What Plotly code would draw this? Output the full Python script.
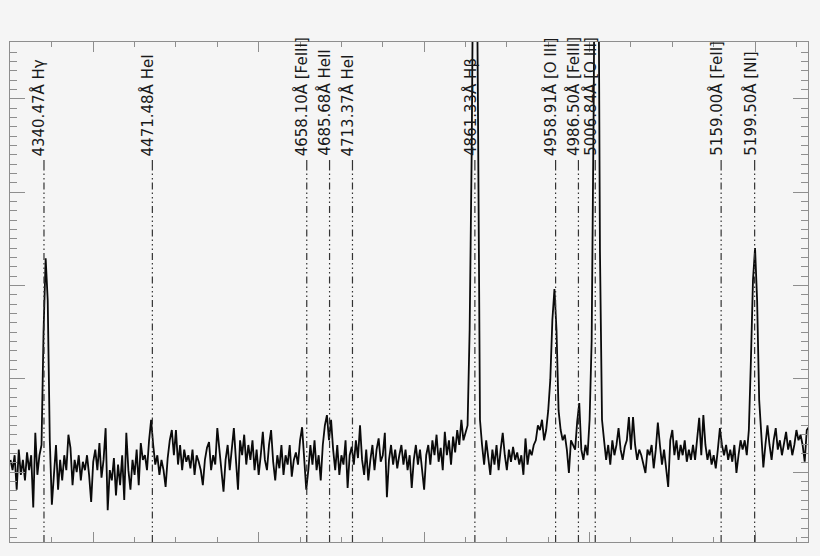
import plotly.graph_objects as go

# Spectrum sampling (start wavelength and step, Angstrom) — like a FITS header
WAVE_START = 4300.0
WAVE_STEP = 2.5

flux = [
    1.13, 1.02, 1.18, 0.81, 1.24, 0.97, 1.13, 0.91, 1.21, 1.02,
    1.18, 0.62, 1.42, 0.97, 1.18, 1.29, 2.52, 3.29, 2.84, 1.34,
    0.65, 1.02, 1.29, 0.81, 1.13, 0.91, 1.18, 1.02, 1.40, 1.26,
    0.86, 1.13, 1.00, 1.18, 0.91, 1.11, 1.02, 1.18, 0.97, 0.68,
    1.11, 1.24, 1.02, 1.31, 0.94, 1.13, 1.47, 0.59, 1.02, 0.91,
    1.15, 0.75, 1.08, 0.86, 1.18, 0.70, 1.42, 1.02, 0.81, 1.13,
    0.97, 1.24, 0.86, 1.31, 1.13, 1.18, 1.02, 1.34, 1.56, 1.29,
    1.08, 1.18, 0.97, 1.13, 1.02, 0.84, 1.15, 1.34, 1.45, 1.18,
    1.45, 1.08, 1.29, 1.02, 1.24, 1.11, 1.18, 1.04, 1.24, 0.97,
    1.18, 1.11, 1.02, 0.86, 1.13, 1.26, 1.32, 1.02, 1.18, 1.08,
    1.47, 1.24, 0.97, 0.79, 1.13, 1.29, 1.02, 1.24, 1.47, 1.13,
    0.81, 1.34, 1.18, 1.40, 1.08, 1.29, 1.13, 1.34, 1.02, 1.24,
    0.97, 1.18, 1.43, 1.13, 1.02, 1.29, 1.45, 1.11, 0.91, 1.18,
    1.04, 1.29, 0.97, 1.18, 1.08, 1.29, 0.95, 1.13, 1.21, 1.08,
    1.34, 1.48, 1.18, 0.81, 1.02, 1.29, 1.08, 1.34, 1.02, 1.18,
    0.91, 1.29, 1.50, 1.61, 1.34, 1.56, 1.24, 1.02, 1.29, 0.97,
    1.18, 1.08, 1.34, 0.83, 1.18, 1.27, 1.08, 1.34, 1.15, 1.50,
    1.13, 0.97, 1.24, 0.91, 1.13, 1.29, 1.02, 1.24, 1.36, 1.11,
    1.18, 1.42, 0.73, 1.13, 1.29, 1.08, 1.24, 1.04, 1.18, 1.29,
    1.08, 1.24, 1.02, 1.18, 0.83, 1.13, 1.29, 1.08, 1.24, 1.02,
    0.81, 1.18, 1.29, 1.08, 1.34, 1.18, 1.40, 1.11, 1.26, 1.02,
    1.43, 1.18, 1.34, 1.08, 1.38, 1.21, 1.45, 1.29, 1.56, 1.34,
    1.43, 1.50, 2.52, 4.45, 7.50, 8.00, 4.99, 1.56, 1.29, 1.08,
    1.34, 1.18, 0.97, 1.24, 1.08, 1.29, 1.02, 1.24, 1.42, 1.18,
    1.02, 1.24, 1.11, 1.27, 1.13, 1.21, 1.08, 1.18, 0.97, 1.36,
    1.08, 1.24, 1.18, 1.29, 1.34, 1.50, 1.45, 1.56, 1.34, 1.45,
    1.66, 1.99, 2.63, 2.96, 2.52, 1.66, 1.45, 1.34, 1.40, 1.24,
    0.99, 1.34, 1.29, 1.24, 1.54, 1.74, 1.24, 1.13, 1.29, 1.18,
    1.56, 2.41, 4.99, 9.00, 8.00, 3.38, 1.56, 1.34, 1.13, 1.29,
    1.08, 1.34, 1.18, 1.29, 1.47, 1.24, 1.13, 1.27, 1.34, 1.59,
    1.24, 1.59, 1.29, 1.13, 1.24, 1.18, 1.08, 0.99, 1.24, 1.18,
    1.29, 1.04, 1.24, 1.53, 1.29, 1.08, 1.24, 1.02, 0.84, 1.34,
    1.45, 1.18, 1.34, 1.13, 1.29, 1.18, 1.34, 1.11, 1.24, 1.13,
    1.29, 1.13, 1.34, 1.58, 1.18, 1.61, 1.29, 1.13, 1.24, 1.08,
    1.18, 1.04, 1.24, 1.47, 1.29, 1.18, 1.29, 1.13, 1.24, 1.11,
    1.29, 0.99, 1.18, 1.34, 1.24, 1.34, 1.18, 1.45, 2.20, 3.06,
    3.40, 2.84, 1.77, 1.38, 1.05, 1.29, 1.50, 1.29, 1.13, 1.34,
    1.47, 1.24, 1.34, 1.18, 1.29, 1.43, 1.24, 1.34, 1.18, 1.29,
    1.45, 1.34, 1.40, 1.29, 1.11, 1.45, 1.48,
]

wavelength = [WAVE_START + WAVE_STEP * i for i in range(len(flux))]

line_waves = [4340.47, 4471.48, 4658.10, 4685.68, 4713.37, 4861.33,
              4958.91, 4986.50, 5006.84, 5159.00, 5199.50]
line_names = ["Hγ", "HeI", "[FeIII]", "HeII", "HeI", "Hβ",
              "[O III]", "[FeIII]", "[O III]", "[FeII]", "[NI]"]

X_RANGE = [4299.4, 5264.0]
Y_RANGE = [0.25, 5.609]
DOT_TOP = 4.237     # top of dash-dot marker line
SOLID_TOP = 4.344   # top of short solid tick before label
LABEL_Y = 4.365     # label base

BG = "#f5f5f5"
FRAME = "#8e8e8e"

fig = go.Figure()
fig.add_trace(go.Scatter(x=wavelength, y=flux, mode="lines",
                         line=dict(color="#0a0a0a", width=1.8),
                         showlegend=False, hoverinfo="skip"))

shapes = []
annotations = []
for w, name in zip(line_waves, line_names):
    shapes.append(dict(type="line", xref="x", yref="y", x0=w, x1=w,
                       y0=Y_RANGE[0], y1=DOT_TOP,
                       line=dict(color="#333333", width=1.2,
                                 dash="7px,3px,1.5px,3px,1.5px,3px,1.5px,3px")))
    shapes.append(dict(type="line", xref="x", yref="y", x0=w, x1=w,
                       y0=DOT_TOP, y1=SOLID_TOP,
                       line=dict(color="#333333", width=1.2)))
    annotations.append(dict(x=w, y=LABEL_Y, xref="x", yref="y",
                            text=f"{w:.2f}Å {name}", textangle=-90,
                            showarrow=False, xanchor="center", yanchor="bottom",
                            xshift=-5,
                            font=dict(family="DejaVu Sans", size=15, color="#1a1a1a")))

axis_common = dict(showgrid=False, zeroline=False, showticklabels=False,
                   showline=True, linecolor=FRAME, linewidth=1, mirror="ticks",
                   ticks="inside", tickcolor=FRAME, tickwidth=1)

fig.update_layout(
    width=820, height=556,
    margin=dict(l=2, r=20, t=34, b=22),
    paper_bgcolor=BG, plot_bgcolor=BG,
    shapes=shapes, annotations=annotations,
    xaxis=dict(range=X_RANGE, dtick=200, tick0=0, ticklen=10,
               minor=dict(ticks="inside", dtick=50, tick0=0, ticklen=5,
                          tickcolor=FRAME, tickwidth=1, showgrid=False),
               **axis_common),
    yaxis=dict(range=Y_RANGE, dtick=1, tick0=0, ticklen=15,
               minor=dict(ticks="inside", dtick=0.1, tick0=0, ticklen=7,
                          tickcolor=FRAME, tickwidth=1, showgrid=False),
               **axis_common),
)

fig.write_html("out.html",
               post_script="document.body.style.background='#f5f5f5';")
